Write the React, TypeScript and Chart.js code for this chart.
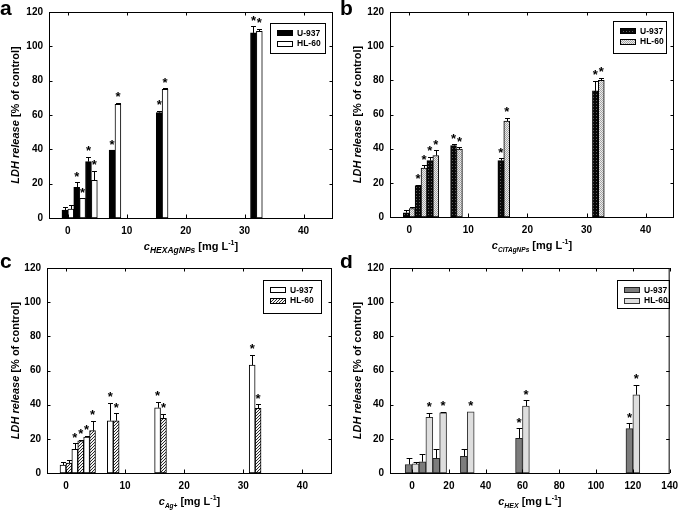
import React, { useEffect, useRef } from 'react';
import { Chart, registerables } from 'chart.js';

Chart.register(...registerables);

// ---------------- data ----------------
const yTicks = [0, 20, 40, 60, 80, 100, 120];
const xTicksAgNP = [0, 10, 20, 30, 40];
const xTicksHEX = [0, 20, 40, 60, 80, 100, 120, 140];
const concAgNP = [0, 2, 4, 8, 16, 32];
const concHEX = [0, 7.5, 15, 30, 60, 120];
const seriesLabels = ['U-937', 'HL-60'];

// panel a: HEXAgNPs
const hexAgU937 = [4.6, 17.9, 32.8, 39.6, 61.4, 107.8];
const hexAgU937Err = [2.0, 2.9, 2.9, 0, 1.0, 3.9];
const hexAgU937Sig = [false, true, true, true, true, true];
const hexAgHL60 = [5.2, 11.4, 21.9, 66.2, 75.0, 108.7];
const hexAgHL60Err = [2.2, 0, 5.7, 0.8, 0.6, 1.5];
const hexAgHL60Sig = [false, true, true, true, true, true];

// panel b: CITAgNPs
const citAgU937 = [2.5, 18.4, 33.0, 41.8, 33.0, 73.8];
const citAgU937Err = [1.8, 0.6, 2.4, 0.7, 1.5, 6.0];
const citAgU937Sig = [false, true, true, true, true, true];
const citAgHL60 = [5.0, 28.7, 36.0, 39.7, 56.2, 80.0];
const citAgHL60Err = [0.9, 1.7, 3.1, 1.0, 1.9, 1.6];
const citAgHL60Sig = [false, true, true, true, true, true];

// panel c: Ag+
const agU937 = [4.7, 13.9, 21.0, 30.6, 38.2, 63.2];
const agU937Err = [1.9, 3.6, 0.8, 10.5, 3.5, 5.9];
const agU937Sig = [false, true, true, true, true, true];
const agHL60 = [5.8, 18.8, 24.8, 30.6, 32.0, 37.9];
const agHL60Err = [1.7, 0.6, 5.8, 4.3, 2.6, 2.4];
const agHL60Sig = [false, true, true, true, true, true];

// panel d: HEX
const hexU937 = [5.0, 6.6, 8.6, 9.8, 20.3, 26.0];
const hexU937Err = [3.6, 4.3, 5.3, 4.5, 5.8, 3.0];
const hexU937Sig = [false, false, false, false, true, true];
const hexHL60 = [5.3, 32.6, 35.2, 35.8, 39.2, 45.8];
const hexHL60Err = [0.9, 2.6, 0.7, 0, 3.4, 5.9];
const hexHL60Sig = [false, true, true, true, true, true];

// ---------------- styling / layout ----------------
const FONT = '"Liberation Sans", Arial, Helvetica, sans-serif';

type Series = { label: string; values: number[]; errors: number[]; sig: boolean[]; fill: string; border: string };
type Panel = {
  letter: string; left: number; top: number; width: number; height: number;
  plot: { l: number; t: number; r: number; b: number };
  xMin: number; xMax: number; xTicks: number[]; conc: number[];
  series: Series[];
  legend: { x: number; y: number; w: number; h: number };
  sub: string; subSize: number; yTitleX: number; letterBase: number;
};

const panels: Panel[] = [
  {
    letter: 'a', left: 0, top: 0, width: 342, height: 265,
    plot: { l: 49, t: 12, r: 333, b: 218 }, xMin: -3.2, xMax: 45, xTicks: xTicksAgNP, conc: concAgNP,
    series: [
      { label: seriesLabels[0], values: hexAgU937, errors: hexAgU937Err, sig: hexAgU937Sig, fill: 'black', border: '#000' },
      { label: seriesLabels[1], values: hexAgHL60, errors: hexAgHL60Err, sig: hexAgHL60Sig, fill: 'white', border: '#000' },
    ],
    legend: { x: 270, y: 23, w: 55, h: 30 }, sub: 'HEXAgNPs', subSize: 8.5, yTitleX: 15, letterBase: 15,
  },
  {
    letter: 'b', left: 340, top: 0, width: 345, height: 265,
    plot: { l: 50, t: 12, r: 334, b: 217 }, xMin: -3.25, xMax: 44.8, xTicks: xTicksAgNP, conc: concAgNP,
    series: [
      { label: seriesLabels[0], values: citAgU937, errors: citAgU937Err, sig: citAgU937Sig, fill: 'darkDots', border: '#000' },
      { label: seriesLabels[1], values: citAgHL60, errors: citAgHL60Err, sig: citAgHL60Sig, fill: 'lightDots', border: '#000' },
    ],
    legend: { x: 273, y: 21, w: 53, h: 32 }, sub: 'CITAgNPs', subSize: 6.5, yTitleX: 17, letterBase: 15,
  },
  {
    letter: 'c', left: 0, top: 255, width: 342, height: 256,
    plot: { l: 47, t: 13, r: 332, b: 218 }, xMin: -3.2, xMax: 45, xTicks: xTicksAgNP, conc: concAgNP,
    series: [
      { label: seriesLabels[0], values: agU937, errors: agU937Err, sig: agU937Sig, fill: 'white', border: '#000' },
      { label: seriesLabels[1], values: agHL60, errors: agHL60Err, sig: agHL60Sig, fill: 'hatch', border: '#000' },
    ],
    legend: { x: 263, y: 25, w: 58, h: 33 }, sub: 'Ag+', subSize: 6.5, yTitleX: 15, letterBase: 13,
  },
  {
    letter: 'd', left: 340, top: 255, width: 345, height: 256,
    plot: { l: 50, t: 13, r: 333, b: 218 }, xMin: -12, xMax: 140, xTicks: xTicksHEX, conc: concHEX,
    series: [
      { label: seriesLabels[0], values: hexU937, errors: hexU937Err, sig: hexU937Sig, fill: '#7c7c7c', border: '#222' },
      { label: seriesLabels[1], values: hexHL60, errors: hexHL60Err, sig: hexHL60Sig, fill: '#dedede', border: '#333' },
    ],
    legend: { x: 277, y: 25, w: 52, h: 28 }, sub: 'HEX', subSize: 7, yTitleX: 17, letterBase: 13,
  },
];

function makeFill(kind: string): string | CanvasPattern {
  const c = document.createElement('canvas');
  const ctx = c.getContext('2d');
  if (!ctx) return kind;
  if (kind === 'darkDots') {
    c.width = 3; c.height = 3;
    ctx.fillStyle = '#080808'; ctx.fillRect(0, 0, 3, 3);
    ctx.fillStyle = '#5e5e5e'; ctx.fillRect(1, 1, 1, 1);
  } else if (kind === 'lightDots') {
    c.width = 2; c.height = 2;
    ctx.fillStyle = '#ececec'; ctx.fillRect(0, 0, 2, 2);
    ctx.fillStyle = '#a4a4a4'; ctx.fillRect(0, 0, 1, 1); ctx.fillRect(1, 1, 1, 1);
  } else if (kind === 'hatch') {
    c.width = 3; c.height = 3;
    ctx.fillStyle = '#f4f4f4'; ctx.fillRect(0, 0, 3, 3);
    ctx.fillStyle = '#2a2a2a';
    ctx.fillRect(2, 0, 1, 1); ctx.fillRect(1, 1, 1, 1); ctx.fillRect(0, 2, 1, 1);
  } else {
    return kind;
  }
  const p = ctx.createPattern(c, 'repeat');
  return p || kind;
}

type Seg = { t: string; font: string; dy: number };
function drawSegs(ctx: CanvasRenderingContext2D, segs: Seg[], cx: number, baseY: number) {
  let total = 0;
  segs.forEach((s) => { ctx.font = s.font; total += ctx.measureText(s.t).width; });
  let x = cx - total / 2;
  ctx.textAlign = 'left';
  ctx.textBaseline = 'alphabetic';
  segs.forEach((s) => {
    ctx.font = s.font;
    ctx.fillText(s.t, x, baseY + s.dy);
    x += ctx.measureText(s.t).width;
  });
}

function decorPlugin(panel: Panel, fills: (string | CanvasPattern)[]) {
  return {
    id: 'decor_' + panel.letter,
    afterDatasetsDraw(chart: any) {
      const ctx: CanvasRenderingContext2D = chart.ctx;
      const ys = chart.scales.y;
      ctx.save();
      ctx.strokeStyle = '#000';
      ctx.fillStyle = '#000';
      ctx.lineWidth = 1;
      panel.series.forEach((s, i) => {
        const meta = chart.getDatasetMeta(i);
        meta.data.forEach((el: any, j: number) => {
          const v = s.values[j];
          const e = s.errors[j];
          const topPx = ys.getPixelForValue(v + e);
          const cx = Math.round(el.x) + 0.5;
          const half = el.width * 0.42;
          if (e > 0) {
            ctx.beginPath();
            ctx.moveTo(cx, el.y);
            ctx.lineTo(cx, Math.round(topPx) + 0.5);
            ctx.moveTo(cx - half, Math.round(topPx) + 0.5);
            ctx.lineTo(cx + half, Math.round(topPx) + 0.5);
            ctx.stroke();
          }
          if (s.sig[j]) {
            ctx.font = `bold 13px ${FONT}`;
            ctx.textAlign = 'center';
            ctx.textBaseline = 'alphabetic';
            ctx.fillText('*', el.x, topPx - 1.5);
          }
        });
      });
      ctx.restore();
    },
    afterDraw(chart: any) {
      const ctx: CanvasRenderingContext2D = chart.ctx;
      const { left, right, top, bottom } = chart.chartArea;
      const xs = chart.scales.x;
      const ys = chart.scales.y;
      ctx.save();
      ctx.strokeStyle = '#000';
      ctx.lineWidth = 1;
      // frame
      ctx.strokeRect(left + 0.5, top + 0.5, right - left - 1, bottom - top);
      // inner tick marks
      ctx.beginPath();
      panel.xTicks.forEach((v) => {
        const px = Math.round(xs.getPixelForValue(v)) + 0.5;
        ctx.moveTo(px, top); ctx.lineTo(px, top + 3.5);
        ctx.moveTo(px, bottom); ctx.lineTo(px, bottom - 3.5);
      });
      yTicks.forEach((v) => {
        const py = Math.round(ys.getPixelForValue(v)) + 0.5;
        ctx.moveTo(left, py); ctx.lineTo(left + 3.5, py);
        ctx.moveTo(right, py); ctx.lineTo(right - 3.5, py);
      });
      ctx.stroke();

      // legend
      const lb = panel.legend;
      ctx.strokeRect(lb.x + 0.5, lb.y + 0.5, lb.w, lb.h);
      panel.series.forEach((s, i) => {
        const ry = lb.y + 10 + i * 10.5;
        const sx = lb.x + 7;
        ctx.fillStyle = fills[i] as any;
        ctx.fillRect(sx, Math.round(ry - 3), 16, 6);
        ctx.strokeStyle = s.border;
        ctx.strokeRect(sx + 0.5, Math.round(ry - 3) + 0.5, 15, 5);
        ctx.fillStyle = '#000';
        ctx.font = `bold 8.5px ${FONT}`;
        ctx.textAlign = 'left';
        ctx.textBaseline = 'middle';
        ctx.fillText(s.label, sx + 20, ry + 0.5);
      });

      // y title
      ctx.fillStyle = '#000';
      ctx.save();
      ctx.translate(panel.yTitleX, (top + bottom) / 2);
      ctx.rotate(-Math.PI / 2);
      drawSegs(ctx, [
        { t: 'LDH release', font: `italic bold 11px ${FONT}`, dy: 0 },
        { t: ' [% of control]', font: `bold 11px ${FONT}`, dy: 0 },
      ], 0, 4);
      ctx.restore();

      // x title
      drawSegs(ctx, [
        { t: 'c', font: `italic bold 11px ${FONT}`, dy: 0 },
        { t: panel.sub, font: `italic bold ${panel.subSize}px ${FONT}`, dy: 3 },
        { t: ' [mg L', font: `bold 11px ${FONT}`, dy: 0 },
        { t: '-1', font: `bold 7px ${FONT}`, dy: -5 },
        { t: ']', font: `bold 11px ${FONT}`, dy: 0 },
      ], (left + right) / 2, bottom + 32);

      // panel letter
      ctx.font = `bold 21px ${FONT}`;
      ctx.textAlign = 'left';
      ctx.textBaseline = 'alphabetic';
      ctx.fillText(panel.letter, 0, panel.letterBase);
      ctx.restore();
    },
  };
}

function PanelChart({ panel }: { panel: Panel }) {
  const ref = useRef<HTMLCanvasElement>(null);
  useEffect(() => {
    if (!ref.current) return;
    const fills = panel.series.map((s) => makeFill(s.fill));
    const chart = new Chart(ref.current, {
      type: 'bar',
      data: {
        datasets: panel.series.map((s, i) => ({
          label: s.label,
          data: panel.conc.map((c, j) => ({ x: c, y: s.values[j] })),
          backgroundColor: fills[i] as any,
          borderColor: s.border,
          borderWidth: 1,
          borderSkipped: false,
          categoryPercentage: 1,
          barPercentage: 1,
        })),
      } as any,
      options: {
        responsive: false,
        animation: false,
        layout: { padding: { left: 0, top: panel.plot.t, right: panel.width - panel.plot.r, bottom: 0 } },
        plugins: { legend: { display: false }, tooltip: { enabled: false } },
        scales: {
          x: {
            type: 'linear',
            min: panel.xMin,
            max: panel.xMax,
            offset: false,
            grid: { display: false, drawTicks: false, offset: false },
            border: { display: false },
            afterBuildTicks: (s: any) => { s.ticks = panel.xTicks.map((v) => ({ value: v })); },
            afterFit: (s: any) => { s.height = panel.height - panel.plot.b; },
            ticks: {
              color: '#000', padding: 7, maxRotation: 0, autoSkip: false,
              font: { family: FONT, size: 10, weight: 'bold' },
              callback: (v: any) => String(v),
            },
          },
          y: {
            min: 0,
            max: 120,
            grid: { display: false, drawTicks: false },
            border: { display: false },
            afterBuildTicks: (s: any) => { s.ticks = yTicks.map((v) => ({ value: v })); },
            afterFit: (s: any) => { s.width = panel.plot.l; },
            ticks: {
              color: '#000', padding: 6,
              font: { family: FONT, size: 10, weight: 'bold' },
              callback: (v: any) => String(v),
            },
          },
        },
      } as any,
      plugins: [decorPlugin(panel, fills) as any],
    });
    return () => chart.destroy();
  }, [panel]);
  return (
    <canvas
      ref={ref}
      width={panel.width}
      height={panel.height}
      style={{ position: 'absolute', left: panel.left, top: panel.top, width: panel.width, height: panel.height }}
    />
  );
}

export default function App() {
  return (
    <div style={{ position: 'fixed', left: 0, top: 0, width: 685, height: 511, background: '#fff', overflow: 'hidden' }}>
      {panels.map((p) => (
        <PanelChart key={p.letter} panel={p} />
      ))}
    </div>
  );
}
